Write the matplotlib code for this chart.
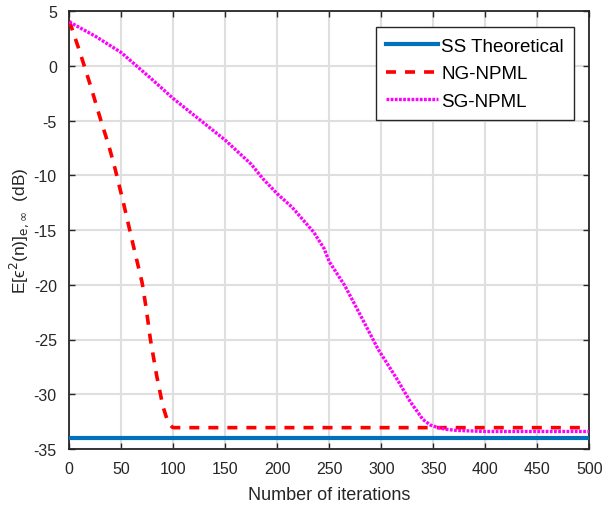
import matplotlib
matplotlib.use('Agg')
import matplotlib.pyplot as plt

plt.rcParams['font.family'] = ['Liberation Sans', 'DejaVu Sans']
plt.rcParams['mathtext.fontset'] = 'dejavusans'
plt.rcParams['axes.unicode_minus'] = False
plt.rcParams['lines.scale_dashes'] = False

# theoretical steady-state level
ss_x = [0, 500]
ss_y = [-34, -34]

# NG-NPML learning curve
ng_x = [0, 10, 21, 31, 38, 44, 52, 61.5, 70, 74, 78, 84, 90, 94, 97, 99, 100, 150, 200, 300, 400, 500]
ng_y = [4.1, 1.3, -2.0, -5.2, -7.3, -9.4, -12.5, -16.4, -19.8, -22.2, -25.0, -28.3, -31.1, -32.3, -32.8, -33.0, -33.05, -33.05, -33.05, -33.05, -33.05, -33.05]

# SG-NPML learning curve
sg_x = [0, 25, 50, 79, 100, 125, 150, 175, 186, 200, 214, 235, 245, 250, 265, 280, 297, 315, 328, 340, 347, 353, 362, 372, 400, 450, 500]
sg_y = [4.0, 2.7, 1.2, -1.2, -3.0, -4.9, -6.8, -9.0, -10.3, -11.7, -12.9, -15.2, -16.7, -17.9, -20.1, -22.8, -25.9, -28.6, -30.7, -32.3, -32.8, -33.0, -33.2, -33.3, -33.4, -33.4, -33.4]

fig = plt.figure(figsize=(6.04, 5.06), dpi=100)
ax = fig.add_axes([69.3 / 604, 56 / 506, 520 / 604, 438 / 506])

ax.plot(ss_x, ss_y, color='#0072BD', lw=3.0, label='SS Theoretical', zorder=3)
ax.plot(ng_x, ng_y, color='#FF0000', lw=2.6, dashes=(7.2, 6.5), label='NG-NPML', zorder=4)
ax.plot(sg_x, sg_y, color='#FF00FF', lw=2.4, dashes=(2.0, 1.0), label='SG-NPML', zorder=5)

ax.set_xlim(0, 500)
ax.set_ylim(-35, 5)
ax.set_xticks(range(0, 501, 50))
ax.set_yticks(range(-35, 6, 5))
ax.grid(True, color='#dfdfdf', lw=1.5)
ax.set_axisbelow(True)
ax.tick_params(direction='in', length=4.5, width=1.0, top=True, right=True,
               labelsize=11.5, colors='#262626')
ax.tick_params(axis='x', pad=9)
ax.tick_params(axis='y', pad=9)
for s in ax.spines.values():
    s.set_linewidth(1.3)
    s.set_color('#262626')

ax.set_xlabel('Number of iterations', fontsize=13, color='#262626', labelpad=7)
ax.set_ylabel('E[\u03f5$^{2}$(n)]$_{\\mathrm{e,}\\infty}$  (dB)', fontsize=12.5,
              color='#262626')
ax.yaxis.set_label_coords(-0.074, 0.5)

leg = ax.legend(loc='upper right', bbox_to_anchor=(0.971, 0.963), fontsize=13.5,
                fancybox=False, framealpha=1, edgecolor='#262626', borderaxespad=0,
                handlelength=2.8, borderpad=0.55, labelspacing=0.55, handletextpad=0.15)
leg.get_frame().set_linewidth(1.0)

fig.savefig('out.png', dpi=100)
